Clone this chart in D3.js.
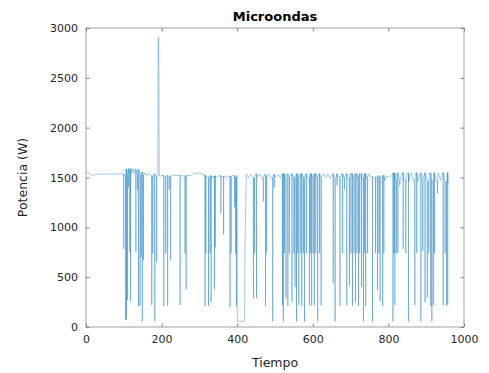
<!DOCTYPE html>
<html>
<head>
<meta charset="utf-8">
<script src="https://cdn.jsdelivr.net/npm/d3@7"></script>
<style>
  body { margin: 0; background: #fff; }
  svg { font-family: "DejaVu Sans", sans-serif; }
  .tick text { fill: #262626; font-size: 11px; }
</style>
</head>
<body>
<script>
//-----------------------------DATA------------------------------//
const titulo = "Microondas";
const etiquetaX = "Tiempo";
const etiquetaY = "Potencia (W)";
const ticksX = [0, 200, 400, 600, 800, 1000];
const ticksY = [0, 500, 1000, 1500, 2000, 2500, 3000];

// baseline of the signal (time, power)
const tBase = [0, 4, 10, 16, 24, 34, 46, 58, 70, 82, 92, 99,
  102, 106, 109, 112, 115, 118, 121, 124, 127, 131, 135, 139, 143, 148, 152, 156, 160,
  166, 172, 178, 184, 190, 191, 192.5, 193.5, 196, 202, 208, 214, 220, 226, 232, 240, 248,
  256, 264, 272, 280, 286, 292, 298, 304, 310, 316, 322, 328, 334, 340, 346, 352,
  358, 364, 370, 376, 382, 388, 394, 399.5, 400.5, 419.5, 420.5, 424,
  430, 436, 442, 448, 454, 460, 466, 472, 478, 484, 490, 496, 502, 508, 514, 520,
  526, 532, 538, 544, 550, 556, 562, 568, 574, 580, 586, 592, 598, 604, 610, 616,
  622, 628, 634, 640, 646, 652, 658, 664, 670, 676, 682, 688, 694, 700, 706, 712,
  718, 724, 730, 736, 742, 748, 754, 760, 766, 772, 778, 784, 790, 796, 802, 808,
  812, 818, 824, 830, 836, 842, 848, 854, 860, 866, 872, 878, 884, 890, 896, 902,
  908, 914, 920, 926, 932, 938, 944, 950, 955, 958];
const pBase = [1560, 1550, 1532, 1522, 1528, 1533, 1535, 1534, 1536, 1534, 1537, 1536,
  1520, 1585, 1530, 1590, 1545, 1588, 1540, 1592, 1545, 1585, 1535, 1580, 1528, 1555, 1520, 1548, 1522,
  1540, 1515, 1535, 1512, 1518, 2910, 2895, 1515, 1512, 1520, 1510, 1522, 1508, 1518, 1525, 1520, 1522,
  1515, 1518, 1520, 1525, 1545, 1535, 1548, 1540, 1528, 1515, 1500, 1518, 1495, 1516, 1500, 1518,
  1505, 1512, 1498, 1515, 1506, 1520, 1500, 1520, 58, 58, 760, 1535,
  1500, 1530, 1495, 1535, 1505, 1532, 1495, 1530, 1500, 1535, 1498, 1532, 1505, 1530, 1495, 1538,
  1490, 1535, 1500, 1538, 1495, 1536, 1490, 1538, 1500, 1536, 1495, 1538, 1492, 1537, 1500, 1538,
  1495, 1538, 1500, 1536, 1490, 1537, 1470, 1538, 1495, 1538, 1500, 1537, 1492, 1538, 1500, 1537,
  1495, 1538, 1490, 1537, 1498, 1536, 1505, 1515, 1500, 1518, 1495, 1520, 1470, 1515, 1500, 1520,
  1545, 1470, 1548, 1465, 1548, 1470, 1546, 1460, 1548, 1470, 1548, 1465, 1546, 1475, 1548, 1460,
  1546, 1470, 1548, 1465, 1546, 1470, 1548, 1460, 1548, 1450];

// drops of the signal (time, lowest power)
const tDip = [100, 105, 107, 110, 113, 116, 118, 132, 136, 139, 143, 146, 149, 152, 174, 177,
  182, 187, 206, 211, 216, 220, 224, 249, 262, 265, 315, 317, 324, 328, 331, 340, 342, 357,
  364, 381, 384, 393, 396, 398,
  443, 446, 451, 469, 475, 478, 494, 498, 520, 522, 525, 529, 534, 538, 545, 550, 553, 557,
  560, 563, 568, 571, 575, 578, 583, 591, 594, 597, 601, 604, 608, 613, 618, 622, 654, 659,
  664, 672, 679, 684, 690, 697, 701, 705, 709, 713, 717, 721, 724, 729, 734, 737, 740, 745,
  758, 766, 771, 775, 778, 785, 788, 812, 815, 817, 821, 825, 830, 839, 846, 853, 870, 875,
  886, 891, 897, 903, 907, 912, 915, 919, 922, 930, 945, 950, 954, 957];
const pDip = [780, 70, 75, 270, 1400, 750, 260, 750, 1380, 210, 210, 700, 55, 670, 220, 740,
  55, 650, 210, 740, 215, 1380, 670, 220, 740, 380, 210, 740, 210, 740, 250, 380, 800, 1140,
  930, 200, 740, 1200, 740, 210,
  290, 740, 290, 1260, 210, 740, 55, 1400, 215, 55, 740, 290, 210, 740, 250, 740, 400, 55,
  740, 220, 740, 210, 740, 55, 740, 220, 740, 215, 740, 220, 740, 55, 740, 215, 440, 55,
  1420, 210, 740, 1380, 215, 420, 740, 215, 740, 250, 740, 210, 740, 400, 55, 740, 210, 740,
  55, 740, 370, 740, 260, 210, 740, 55, 740, 220, 740, 740, 1420, 780, 740, 55, 220, 740,
  55, 760, 250, 300, 740, 210, 55, 220, 740, 1340, 220, 740, 210, 225];

//-----------------------------SVG------------------------------//
const width = 489;
const height = 373;
const margin = { top: 28, right: 25, bottom: 46, left: 86 };
const innerW = 378;
const innerH = 299;

const svg = d3.select("body").append("svg")
  .attr("width", width)
  .attr("height", height);

const g = svg.append("g")
  .attr("transform", "translate(" + margin.left + "," + margin.top + ")");

//----------------------------SCALES-----------------------------//
const x = d3.scaleLinear().domain([0, 1000]).range([0, innerW]);
const y = d3.scaleLinear().domain([0, 3000]).range([innerH, 0]);

// merge baseline and drops into one ordered series
const serie = tBase.map((t, i) => ({ t: t, p: pBase[i] }));
tDip.forEach((t, i) => {
  const j = d3.bisectRight(tBase, t) - 1;
  const top = pBase[Math.max(j, 0)];
  serie.push({ t: t - 0.3, p: top });
  serie.push({ t: t, p: pDip[i] });
  serie.push({ t: t + 0.3, p: top });
});
serie.sort((a, b) => a.t - b.t);

//-----------------------------AXES------------------------------//
const axisColor = "#262626";
const tickLen = 3.5;
const fmt = d3.format("d");

g.append("g")
  .attr("transform", "translate(0," + innerH + ")")
  .call(d3.axisBottom(x).tickValues(ticksX).tickFormat(fmt).tickSizeInner(-tickLen).tickSizeOuter(0).tickPadding(8))
  .call(a => a.select(".domain").remove());

g.append("g")
  .call(d3.axisTop(x).tickValues(ticksX).tickSizeInner(-tickLen).tickSizeOuter(0).tickFormat(""))
  .call(a => a.select(".domain").remove());

g.append("g")
  .call(d3.axisLeft(y).tickValues(ticksY).tickFormat(fmt).tickSizeInner(-tickLen).tickSizeOuter(0).tickPadding(8))
  .call(a => a.select(".domain").remove());

g.append("g")
  .attr("transform", "translate(" + innerW + ",0)")
  .call(d3.axisRight(y).tickValues(ticksY).tickSizeInner(-tickLen).tickSizeOuter(0).tickFormat(""))
  .call(a => a.select(".domain").remove());

g.selectAll(".tick line").attr("stroke", axisColor).attr("stroke-width", 0.6);
g.selectAll(".tick text").attr("font-family", "DejaVu Sans, sans-serif");

//----------------------------LINE------------------------------//
const line = d3.line()
  .x(d => x(d.t))
  .y(d => y(d.p));

g.append("path")
  .datum(serie)
  .attr("fill", "none")
  .attr("stroke", "#0072BD")
  .attr("stroke-opacity", 0.75)
  .attr("stroke-width", 0.5)
  .attr("stroke-linejoin", "round")
  .attr("d", line);

// box
g.append("rect")
  .attr("width", innerW)
  .attr("height", innerH)
  .attr("fill", "none")
  .attr("stroke", "#8a8a8a")
  .attr("stroke-width", 0.8);

//----------------------------LABELS------------------------------//
svg.append("text")
  .attr("x", margin.left + innerW / 2)
  .attr("y", 21)
  .attr("text-anchor", "middle")
  .attr("font-size", 13)
  .attr("font-weight", "bold")
  .attr("fill", "#000")
  .text(titulo);

svg.append("text")
  .attr("x", margin.left + innerW / 2)
  .attr("y", 367)
  .attr("text-anchor", "middle")
  .attr("font-size", 12.5)
  .attr("fill", axisColor)
  .text(etiquetaX);

svg.append("text")
  .attr("transform", "translate(27," + (margin.top + innerH / 2) + ") rotate(-90)")
  .attr("text-anchor", "middle")
  .attr("font-size", 12.5)
  .attr("fill", axisColor)
  .text(etiquetaY);
</script>
</body>
</html>
